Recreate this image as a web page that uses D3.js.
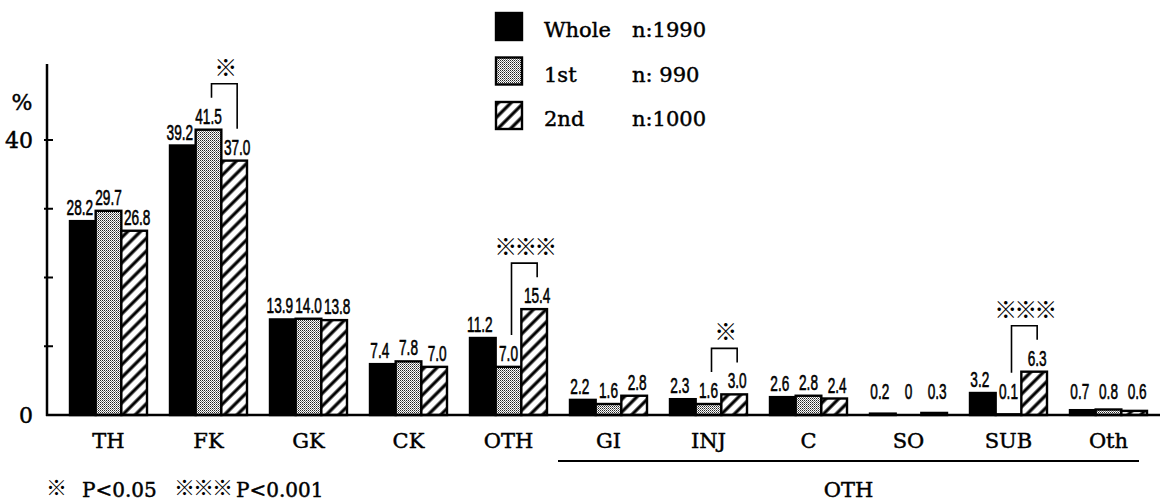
<!DOCTYPE html>
<html>
<head>
<meta charset="utf-8">
<script src="https://cdn.jsdelivr.net/npm/d3@7"></script>
<style>
  html, body { margin: 0; padding: 0; background: #fff; }
  svg { display: block; }
</style>
</head>
<body>
<svg id="chart" width="1163" height="503"></svg>
<script>
// ---- data ----
const categories = ["TH", "FK", "GK", "CK", "OTH", "GI", "INJ", "C", "SO", "SUB", "Oth"];
const series = ["Whole", "1st", "2nd"];
const seriesN = ["n:1990", "n: 990", "n:1000"];
const wholeValues  = [28.2, 39.2, 13.9, 7.4, 11.2, 2.2, 2.3, 2.6, 0.2, 3.2, 0.7];
const firstValues  = [29.7, 41.5, 14.0, 7.8, 7.0, 1.6, 1.6, 2.8, 0, 0.1, 0.8];
const secondValues = [26.8, 37.0, 13.8, 7.0, 15.4, 2.8, 3.0, 2.4, 0.3, 6.3, 0.6];
const yTicks = [0, 10, 20, 30, 40];
const yTickLabels = ["0", "", "", "", "40"];
const subCategories = ["GI", "INJ", "C", "SO", "SUB", "Oth"];
const subGroupLabel = "OTH";
const sigCategories = ["FK", "OTH", "INJ", "SUB"];
const sigMarks = ["※", "※※※", "※", "※※※"];
const footnoteMarks = ["※", "※※※"];
const footnoteTexts = ["P<0.05", "P<0.001"];

const valuesBySeries = [wholeValues, firstValues, secondValues];

// ---- setup ----
const svg = d3.select("#chart");
const serif = "'DejaVu Serif', 'Liberation Serif', serif";
const sans = "'Liberation Sans', Arial, sans-serif";
const cjk = "'Noto Sans CJK JP', 'DejaVu Sans', sans-serif";

const defs = svg.append("defs");
const dots = defs.append("pattern").attr("id", "dots")
  .attr("patternUnits", "userSpaceOnUse").attr("width", 2).attr("height", 2);
dots.append("rect").attr("width", 2).attr("height", 2).attr("fill", "#fff");
dots.append("rect").attr("width", 1).attr("height", 1).attr("fill", "#222");
dots.append("rect").attr("x", 1).attr("y", 1).attr("width", 1).attr("height", 1).attr("fill", "#777");

const hatch = defs.append("pattern").attr("id", "hatch")
  .attr("patternUnits", "userSpaceOnUse").attr("width", 9).attr("height", 9)
  .attr("patternTransform", "rotate(45)");
hatch.append("rect").attr("width", 9).attr("height", 9).attr("fill", "#fff");
hatch.append("line").attr("x1", 2).attr("y1", 0).attr("x2", 2).attr("y2", 9)
  .attr("stroke", "#000").attr("stroke-width", 3.2);

const fills = ["#000", "url(#dots)", "url(#hatch)"];

const x = d3.scaleBand().domain(categories).range([58.5, 1158.5])
  .paddingInner(0.23).paddingOuter(0.115);
const xs = d3.scaleBand().domain(series).range([0, x.bandwidth()]);
const y = d3.scaleLinear().domain([0, 40]).range([415, 140]);

const axisLeft = 47, axisTop = 64;

// ---- bars ----
const barData = [];
categories.forEach((c, ci) => {
  series.forEach((s, si) => {
    barData.push({ c, s, si, v: valuesBySeries[si][ci] });
  });
});

svg.append("g").selectAll("rect").data(barData).join("rect")
  .attr("x", d => x(d.c) + xs(d.s))
  .attr("y", d => y(d.v))
  .attr("width", xs.bandwidth())
  .attr("height", d => y(0) - y(d.v))
  .attr("fill", d => fills[d.si])
  .attr("stroke", "#000")
  .attr("stroke-width", 2.4);

// ---- value labels (condensed) ----
const fmt = v => v === 0 ? "0" : v.toFixed(1);
const labelBase = d => y(Math.max(d.v, 1.5)) - 6;
svg.append("g").selectAll("text").data(barData).join("text")
  .attr("transform", d => `translate(${x(d.c) + xs(d.s) + xs.bandwidth() / 2 + (d.si - 1) * 3},${labelBase(d)}) scale(0.62,1)`)
  .attr("text-anchor", "middle")
  .attr("font-family", sans)
  .attr("font-size", 22)
  .attr("fill", "#000")
  .attr("stroke", "#000").attr("stroke-width", 0.6)
  .text(d => fmt(d.v));

// ---- axes ----
svg.append("line").attr("x1", axisLeft).attr("x2", axisLeft)
  .attr("y1", axisTop).attr("y2", y(0) + 1)
  .attr("stroke", "#000").attr("stroke-width", 2.5);
svg.append("line").attr("x1", axisLeft - 1).attr("x2", 1160)
  .attr("y1", y(0)).attr("y2", y(0))
  .attr("stroke", "#000").attr("stroke-width", 2.5);

svg.append("g").selectAll("line").data(yTicks.filter(t => t > 0)).join("line")
  .attr("x1", axisLeft - 3).attr("x2", axisLeft + 6)
  .attr("y1", d => y(d)).attr("y2", d => y(d))
  .attr("stroke", "#000").attr("stroke-width", 2);

const serifText = sel => sel.attr("font-family", serif)
  .attr("fill", "#000").attr("stroke", "#000").attr("stroke-width", 0.45);

svg.append("g").selectAll("text").data(yTicks).join("text")
  .attr("x", 33).attr("y", d => y(d))
  .attr("dy", "0.36em")
  .attr("text-anchor", "end")
  .attr("font-size", 22)
  .call(serifText)
  .text((d, i) => yTickLabels[i]);

svg.append("text").attr("x", 22).attr("y", 110)
  .attr("text-anchor", "middle")
  .attr("font-size", 22)
  .call(serifText)
  .text("%");

// category labels
svg.append("g").selectAll("text").data(categories).join("text")
  .attr("x", d => x(d) + x.bandwidth() / 2)
  .attr("y", 448)
  .attr("text-anchor", "middle")
  .attr("font-size", 21)
  .call(serifText)
  .text(d => d);

// sub-group underline and label
const subLeft = x(subCategories[0]) - 12;
const subRight = x(subCategories[subCategories.length - 1]) + x.bandwidth() - 8;
svg.append("line").attr("x1", subLeft).attr("x2", subRight)
  .attr("y1", 461).attr("y2", 461)
  .attr("stroke", "#000").attr("stroke-width", 2);
svg.append("text").attr("x", (subLeft + subRight) / 2).attr("y", 497)
  .attr("text-anchor", "middle")
  .attr("font-size", 21)
  .call(serifText)
  .text(subGroupLabel);

// footnotes
const fnMarkX = [46, 174];
const fnTextX = [82, 236];
footnoteMarks.forEach((m, i) => {
  svg.append("text").attr("x", fnMarkX[i]).attr("y", 495)
    .attr("font-family", cjk).attr("font-size", 21).attr("font-weight", "bold")
    .attr("letter-spacing", -2)
    .attr("fill", "#000").text(m);
  svg.append("text").attr("x", fnTextX[i]).attr("y", 497)
    .attr("font-size", 20).call(serifText).text(footnoteTexts[i]);
});

// ---- significance brackets ----
sigCategories.forEach((c, i) => {
  const ci = categories.indexOf(c);
  const b1 = { v: firstValues[ci] }, b2 = { v: secondValues[ci] };
  const x1 = x(c) + xs("1st") + xs.bandwidth() / 2 + 3;
  const x2 = x(c) + xs("2nd") + xs.bandwidth() / 2 + 3;
  const leg1 = labelBase(b1) - 16 - 10;
  const leg2 = labelBase(b2) - 16 - 10;
  const top = Math.min(leg1, leg2) - 14;
  svg.append("path")
    .attr("d", `M${x1},${leg1}V${top}H${x2}V${leg2}`)
    .attr("fill", "none").attr("stroke", "#000").attr("stroke-width", 1.6);
  svg.append("text").attr("x", (x1 + x2) / 2).attr("y", top - 8)
    .attr("text-anchor", "middle")
    .attr("font-family", cjk).attr("font-size", 23).attr("font-weight", "bold")
    .attr("letter-spacing", -3)
    .attr("fill", "#000")
    .text(sigMarks[i]);
});

// ---- legend ----
const legend = svg.append("g");
series.forEach((s, i) => {
  const ly = 13 + i * 44.5;
  legend.append("rect").attr("x", 496).attr("y", ly).attr("width", 26).attr("height", 27)
    .attr("fill", fills[i]).attr("stroke", "#000").attr("stroke-width", 2.4);
  legend.append("text").attr("x", 544).attr("y", ly + 24)
    .attr("font-size", 21).call(serifText).text(s);
  legend.append("text").attr("x", 632).attr("y", ly + 24)
    .attr("font-size", 21).call(serifText).text(seriesN[i]);
});
</script>
</body>
</html>
